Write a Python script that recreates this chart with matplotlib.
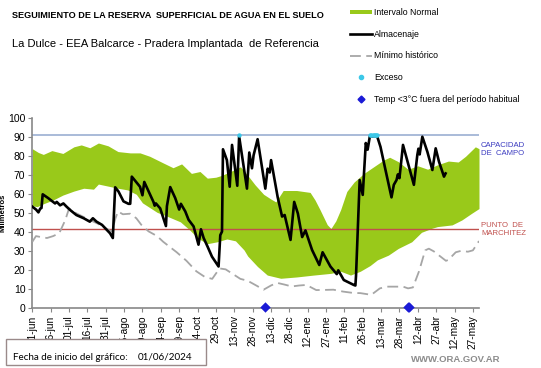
import matplotlib
matplotlib.use("Agg")
import matplotlib.pyplot as plt
import numpy as np
from matplotlib.lines import Line2D
from matplotlib.patches import Patch, Rectangle

plt.rcParams['font.family'] = ['Liberation Sans', 'DejaVu Sans']

# days since 01-jun-2024
band_days = [0, 5, 9, 16, 25, 34, 40, 47, 54, 62, 70, 80, 88, 96, 107, 115, 122, 130, 137,
             143, 150, 155, 162, 170, 176, 182, 189, 195, 199, 205, 216, 227, 231, 235, 241,
             244, 248, 252, 257, 263, 271, 279, 287, 292, 299, 307, 315, 323, 331, 340, 348,
             354, 362, 365]
band_hi = [84, 82, 81, 83, 81.5, 85, 86, 84.5, 87, 85.5, 82.5, 81.8, 81.8, 80, 76.5, 74, 76,
           71, 72, 68.5, 69, 70, 72, 74.5, 70, 65, 60, 57.5, 56, 62, 62, 61, 57, 52, 44,
           42, 46, 52, 61.5, 66.5, 71, 74.5, 78, 79.5, 77.2, 73.2, 75, 73.2, 75.5, 77.5, 77,
           80, 85, 84]
lo_days = [0, 4, 9, 17, 25, 34, 42, 50, 54, 62, 70, 78, 85, 90, 102, 110, 121, 129, 135,
           143, 151, 159, 166, 173, 176, 184, 192, 203, 216, 230, 244, 252, 260, 268, 276,
           282, 291, 299, 310, 318, 326, 331, 343, 351, 359, 365]
band_lo = [54, 53.5, 55, 57, 59.6, 61.7, 63.2, 62.7, 65.4, 64.3, 63.2, 62.3, 60, 55.5, 50.5,
           48.5, 45.5, 41, 37, 34, 35, 36.5, 35.5, 30.7, 27.5, 22, 17.5, 15.8, 16.5, 17.5,
           18.4, 19.5, 17.5, 19.5, 22.5, 25.5, 28, 31.5, 35, 40, 42, 43, 43.9, 46.5, 50, 52.5]

min_days = [0, 3, 7, 12, 17, 22, 27, 30, 36, 44, 53, 60, 65, 68, 70, 74, 80, 85, 89, 95, 102,
            107, 110, 118, 126, 134, 141, 147, 153, 158, 164, 170, 176, 183, 189, 195, 200,
            206, 212, 218, 224, 232, 240, 246, 254, 262, 268, 277, 284, 290, 296, 303, 307,
            311, 316, 321, 324, 328, 333, 338, 340, 346, 350, 356, 360, 365]
min_hist = [35, 38, 37.5, 37, 38, 39.5, 46.5, 52.5, 50, 47.4, 44.7, 42.1, 40.4, 47.4, 51,
            49.5, 49.8, 47.4, 44, 40.5, 38, 35, 33.5, 29.5, 25, 19.5, 16.5, 15.5, 21, 20.5,
            18, 15.5, 14.5, 12, 9.8, 12, 13.4, 12.5, 11.5, 12, 12.3, 9.6, 9.7, 9.8, 8.8, 8.1,
            8, 7.1, 10.5, 11.4, 11.4, 11.4, 10.5, 11, 19.5, 30.5, 31.4, 30, 27.5, 25, 25.5,
            29.5, 30.2, 29.8, 30.5, 35.4]

alm_days = [0, 3, 5, 6.5, 7.5, 8.5, 13, 18.6, 20, 22.7, 25.4, 28, 31, 36, 42, 47, 49.5, 52.5,
            57, 63.5, 65.8, 67.7, 70.4, 74.5, 78.6, 80, 81.3, 88, 90, 91.5, 99, 100, 101,
            104.5, 109.2, 110, 112.7, 116.8, 120, 121.4, 125, 127.7, 131.8, 135.8, 137.8,
            140, 143.2, 146.8, 152.2, 153.6, 155, 155.8, 159, 161.3, 163.2, 167.5, 169,
            175.4, 177.3, 179.5, 180.8, 184.1, 190.4, 192.3, 194, 195.1, 200.5, 204.1, 206.2,
            211, 214, 217, 220.5, 223.2, 228.6, 234.5, 237.2, 243.6, 248.8, 250, 254.5,
            262.7, 264, 264.5, 267.5, 270, 272.5, 274, 275.8, 281.8, 284.5, 288.6, 293.5,
            295.4, 297.6, 298.7, 300, 302.9, 311.8, 314.6, 315.5, 316.5, 318.7, 322.8, 326.9,
            329.6, 332.3, 336.4, 337.7]
almacenaje = [53.5, 52, 50.5, 52.5, 52.8, 60, 58, 55.2, 56, 54.2, 55.2, 53.5, 51.7, 49.1,
              47.4, 45.6, 47.4, 45.6, 43.9, 39.5, 37, 63.7, 61.5, 56.3, 55, 55, 69.3, 64,
              59.5, 66.5, 56, 54, 55.2, 52.6, 43.3, 53.8, 63.8, 58, 52, 55, 51, 46.6, 43.1,
              33.5, 41.6, 37, 32.5, 27.2, 22, 38.5, 40.4, 83.7, 78, 64, 86, 64.5, 90.5, 63,
              82, 73.7, 80.5, 89, 63, 73.5, 71.5, 78, 58.5, 48.3, 49.1, 36, 56, 49.9, 37.5,
              41, 30.7, 22.8, 29.5, 22, 18, 20, 14.9, 12.3, 12, 17, 67.5, 59.7, 87, 83.5,
              90.5, 90.5, 85, 72.8, 58.4, 65, 67.5, 70.5, 68.5, 86, 65, 80.7, 84, 81, 90.3,
              82.4, 72.8, 84.2, 77.2, 69.3, 71]

exceso_days = [169, 276, 277, 278, 279, 280, 281, 282]
temp_days = [190, 307, 308]

cap_campo = 91
punto_march = 42

tick_labels = ['01-jun', '16-jun', '01-jul', '16-jul', '31-jul', '15-ago', '30-ago',
               '14-sep', '29-sep', '14-oct', '29-oct', '13-nov', '28-nov', '13-dic',
               '28-dic', '12-ene', '27-ene', '11-feb', '26-feb', '13-mar', '28-mar',
               '12-abr', '27-abr', '12-may', '27-may']

fig = plt.figure(figsize=(5.41, 3.68), dpi=100)
ax = fig.add_axes([0.0597, 0.1622, 0.8257, 0.5163])

# band edges were read at different days -> put both on one grid
grid = np.array(sorted(set(band_days) | set(lo_days)), dtype=float)
ax.fill_between(grid, np.interp(grid, lo_days, band_lo), np.interp(grid, band_days, band_hi),
                color='#99c91a', lw=0, zorder=1)

ax.axhline(cap_campo, color='#a3b5d6', lw=1.3, zorder=2)
ax.axhline(punto_march, color='#c0504d', lw=1.0, zorder=2)

ax.plot(min_days, min_hist, color='#a6a6a6', lw=1.3, dashes=(6, 3), zorder=3)
ax.plot(alm_days, almacenaje, color='black', lw=1.9, zorder=4)
ax.scatter(exceso_days, [cap_campo] * len(exceso_days), s=10, color='#3cc8e8', zorder=5,
           linewidths=0)
ax.scatter(temp_days, [0.5] * len(temp_days), s=28, marker='D', color='#1a1ad6', zorder=6,
           clip_on=False, linewidths=0)

ax.set_xlim(0, 365)
ax.set_ylim(0, 100)
ax.set_yticks(range(0, 101, 10))
ax.set_xticks(range(0, 361, 15))
ax.set_xticklabels(tick_labels, rotation=90, fontsize=7.3)
ax.tick_params(axis='y', labelsize=7.5, length=3, color='#888888', pad=2)
ax.tick_params(axis='x', length=3, color='#888888', pad=2)
for s in ['top', 'right']:
    ax.spines[s].set_visible(False)
for s in ['left', 'bottom']:
    ax.spines[s].set_color('#888888')
    ax.spines[s].set_linewidth(1.2)
ax.set_ylabel('Milímetros', fontsize=5.5, fontweight='bold', labelpad=1)

fig.text(12 / 541, 1 - 15 / 368, 'SEGUIMIENTO DE LA RESERVA  SUPERFICIAL DE AGUA EN EL SUELO',
         fontsize=6.6, fontweight='bold', va='center', ha='left')
fig.text(12 / 541, 1 - 44 / 368, 'La Dulce - EEA Balcarce - Pradera Implantada  de Referencia',
         fontsize=8.0, va='center', ha='left')

fig.text(481 / 541, 1 - 149 / 368, 'CAPACIDAD\nDE  CAMPO', fontsize=5.6, color='#3c3cc0',
         va='center', ha='left', linespacing=1.2)
fig.text(481 / 541, 1 - 229 / 368, 'PUNTO  DE\nMARCHITEZ', fontsize=5.6, color='#c0504d',
         va='center', ha='left', linespacing=1.2)

handles = [Patch(facecolor='#99c91a', edgecolor='none'),
           Line2D([], [], color='black', lw=1.9),
           Line2D([], [], color='#a6a6a6', lw=1.3, dashes=(6, 3)),
           Line2D([], [], ls='none', marker='o', ms=3, color='#3cc8e8'),
           Line2D([], [], ls='none', marker='D', ms=3.5, color='#1a1ad6')]
labels = ['Intervalo Normal', 'Almacenaje', 'Mínimo histórico', 'Exceso',
          'Temp <3°C fuera del período habitual']
fig.legend(handles, labels, loc='upper left', bbox_to_anchor=(350 / 541, 1 - 8 / 368),
           frameon=False, fontsize=6.3, handlelength=2.5, handleheight=0.35,
           handletextpad=0.25, labelspacing=1.45, borderpad=0, borderaxespad=0)

fig.patches.append(Rectangle((6 / 541, 3 / 368), 200 / 541, 26 / 368, transform=fig.transFigure,
                             facecolor='white', edgecolor='#9a8a8a', lw=1.0))
fig.text(13 / 541, 1 - 357 / 368, 'Fecha de inicio del gráfico:', fontsize=7.1, family='Lato',
         va='center', ha='left')
fig.text(138 / 541, 1 - 357 / 368, '01/06/2024', fontsize=7.1, family='Lato', va='center',
         ha='left')
fig.text(500 / 541, 1 - 360 / 368, 'WWW.ORA.GOV.AR', fontsize=6.8, fontweight='bold',
         color='#8c8c8c', va='center', ha='right')

fig.savefig('out.png', dpi=100)
